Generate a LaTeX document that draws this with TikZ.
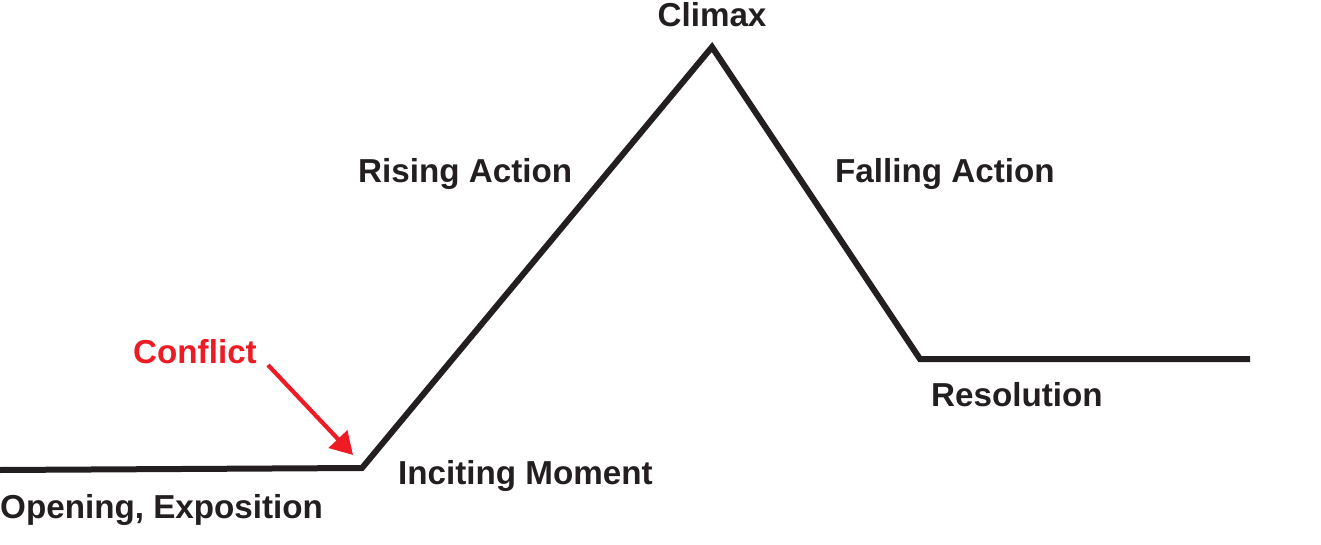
\documentclass[tikz,border=0pt]{standalone}
\usepackage{fontspec}
\setmainfont{Liberation Sans}
\usetikzlibrary{arrows.meta}
\definecolor{conflictred}{HTML}{ED1C24}
\definecolor{ink}{HTML}{231F20}
\begin{document}
\begin{tikzpicture}[x=1pt,y=-1pt,
  lbl/.style={inner sep=0pt,font=\fontsize{33.2}{36}\selectfont\bfseries,text=ink},
  plot/.style={line width=6pt,ink,line join=miter},
  redarrow/.style={line width=4.2pt,conflictred,-{Triangle[length=22pt,width=25pt]}}]
\useasboundingbox (0,0) rectangle (1321,545);
\coordinate (start) at (0,470);
\coordinate (incite) at (362,468);
\coordinate (peak) at (712,47);
\coordinate (resol) at (920,359);
\coordinate (finish) at (1250,359);
\draw[plot] (start) -- (incite) -- (peak) -- (resol) -- (finish);
\node[lbl,anchor=base] (climax) at (712,27) {Climax};
\node[lbl,anchor=base west] (rising) at (358,183) {Rising Action};
\node[lbl,anchor=base west] (falling) at (835,183) {Falling Action};
\node[lbl,anchor=base west,text=conflictred] (conflict) at (133,363) {Conflict};
\node[lbl,anchor=base west] (inciting) at (398,484) {Inciting Moment};
\node[lbl,anchor=base west] (opening) at (0,518) {Opening, Exposition};
\node[lbl,anchor=base west] (resolution) at (931,406) {Resolution};
\coordinate (arrowtail) at (268,365);
\coordinate (arrowtip) at (353,455);
\draw[redarrow] (arrowtail) -- (arrowtip);
\end{tikzpicture}
\end{document}
